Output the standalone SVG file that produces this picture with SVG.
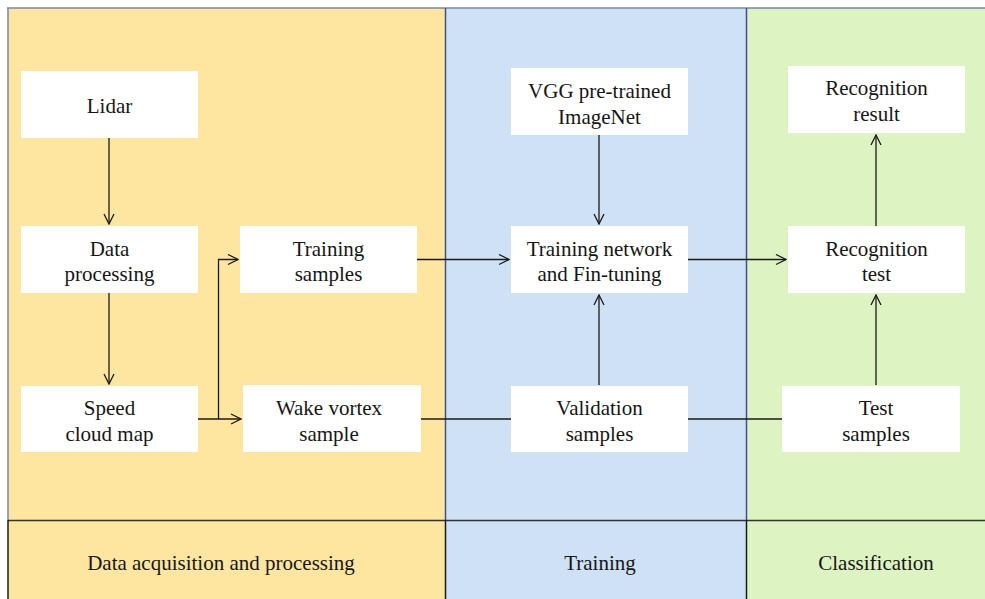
<svg xmlns="http://www.w3.org/2000/svg" width="985" height="599" viewBox="0 0 985 599">
  <style>
    .box { fill: #ffffff; }
    .lbl { font-family: "Liberation Serif", "DejaVu Serif", serif; font-size: 21px; fill: #161616; text-anchor: middle; }
    .wire { stroke: #1a1a1a; stroke-width: 1.3; fill: none; }
    .arrow { marker-end: url(#open); }
  </style>
  <defs>
    <marker id="open" viewBox="0 0 12 12" refX="11" refY="6" markerWidth="12" markerHeight="12" markerUnits="userSpaceOnUse" orient="auto">
      <path d="M1,1 L11,6 L1,11" fill="none" stroke="#1a1a1a" stroke-width="1.3"/>
    </marker>
  </defs>

  <!-- swimlane backgrounds -->
  <g id="lanes">
    <rect x="8" y="8" width="437" height="591" fill="#fee6a1"/>
    <rect x="445" y="8" width="301" height="591" fill="#cfe1f5"/>
    <rect x="746" y="8" width="239" height="591" fill="#def3c2"/>
    <!-- upper frame lines -->
    <line x1="7" y1="8" x2="985" y2="8" stroke="#7684b4" stroke-width="1.5"/>
    <line x1="8" y1="8" x2="8" y2="520" stroke="#7684b4" stroke-width="1.5"/>
    <line x1="445.5" y1="8" x2="445.5" y2="520" stroke="#3c4f8c" stroke-width="1.5"/>
    <line x1="746.5" y1="8" x2="746.5" y2="520" stroke="#3c4f8c" stroke-width="1.5"/>
    <!-- lower title band -->
    <line x1="8" y1="520.5" x2="985" y2="520.5" stroke="#333333" stroke-width="1.5"/>
    <line x1="8" y1="520" x2="8" y2="599" stroke="#1a1a1a" stroke-width="1.5"/>
    <line x1="445.5" y1="520" x2="445.5" y2="599" stroke="#1a1a1a" stroke-width="1.5"/>
    <line x1="746.5" y1="520" x2="746.5" y2="599" stroke="#1a1a1a" stroke-width="1.5"/>
    <text class="lbl" x="221" y="570">Data acquisition and processing</text>
    <text class="lbl" x="600" y="570">Training</text>
    <text class="lbl" x="876" y="570">Classification</text>
  </g>

  <!-- connectors -->
  <g id="connectors">
    <line class="wire arrow" x1="109" y1="138" x2="109" y2="224"/>
    <line class="wire arrow" x1="109" y1="293" x2="109" y2="384"/>
    <line class="wire arrow" x1="198" y1="419" x2="241" y2="419"/>
    <polyline class="wire arrow" points="218.5,419 218.5,259.5 238,259.5"/>
    <line class="wire arrow" x1="417" y1="259.5" x2="509" y2="259.5"/>
    <line class="wire arrow" x1="688" y1="259.5" x2="786" y2="259.5"/>
    <line class="wire arrow" x1="599" y1="135" x2="599" y2="224"/>
    <line class="wire arrow" x1="599" y1="385" x2="599" y2="295"/>
    <line class="wire" x1="421" y1="419" x2="511" y2="419"/>
    <line class="wire" x1="688" y1="419" x2="782" y2="419"/>
    <line class="wire arrow" x1="876" y1="385" x2="876" y2="295"/>
    <line class="wire arrow" x1="876" y1="226" x2="876" y2="135"/>
  </g>

  <!-- nodes -->
  <g id="lidar">
    <rect class="box" x="21" y="71" width="177" height="67"/>
    <text class="lbl" x="109.5" y="112.5">Lidar</text>
  </g>
  <g id="data-processing">
    <rect class="box" x="21" y="226" width="177" height="67"/>
    <text class="lbl" x="109.5" y="255.5">Data</text>
    <text class="lbl" x="109.5" y="280.5">processing</text>
  </g>
  <g id="speed-cloud-map">
    <rect class="box" x="21" y="386" width="177" height="66"/>
    <text class="lbl" x="109.5" y="414.5">Speed</text>
    <text class="lbl" x="109.5" y="440.5">cloud map</text>
  </g>
  <g id="training-samples">
    <rect class="box" x="240" y="226" width="177" height="67"/>
    <text class="lbl" x="328.5" y="255.5">Training</text>
    <text class="lbl" x="328.5" y="280.5">samples</text>
  </g>
  <g id="wake-vortex-sample">
    <rect class="box" x="243" y="385" width="178" height="67"/>
    <text class="lbl" x="329" y="414.5">Wake vortex</text>
    <text class="lbl" x="329" y="440.5">sample</text>
  </g>
  <g id="vgg">
    <rect class="box" x="511" y="68" width="177" height="67"/>
    <text class="lbl" x="599.5" y="97.5">VGG pre-trained</text>
    <text class="lbl" x="599.5" y="123.5">ImageNet</text>
  </g>
  <g id="training-network">
    <rect class="box" x="511" y="226" width="177" height="67"/>
    <text class="lbl" x="599.5" y="255.5">Training network</text>
    <text class="lbl" x="599.5" y="280.5">and Fin-tuning</text>
  </g>
  <g id="validation-samples">
    <rect class="box" x="511" y="386" width="177" height="66"/>
    <text class="lbl" x="599.5" y="414.5">Validation</text>
    <text class="lbl" x="599.5" y="440.5">samples</text>
  </g>
  <g id="recognition-result">
    <rect class="box" x="788" y="66" width="177" height="67"/>
    <text class="lbl" x="876.5" y="94.5">Recognition</text>
    <text class="lbl" x="876.5" y="120.5">result</text>
  </g>
  <g id="recognition-test">
    <rect class="box" x="788" y="226" width="177" height="67"/>
    <text class="lbl" x="876.5" y="255.5">Recognition</text>
    <text class="lbl" x="876.5" y="280.5">test</text>
  </g>
  <g id="test-samples">
    <rect class="box" x="782" y="386" width="178" height="66"/>
    <text class="lbl" x="876" y="414.5">Test</text>
    <text class="lbl" x="876" y="440.5">samples</text>
  </g>
</svg>
